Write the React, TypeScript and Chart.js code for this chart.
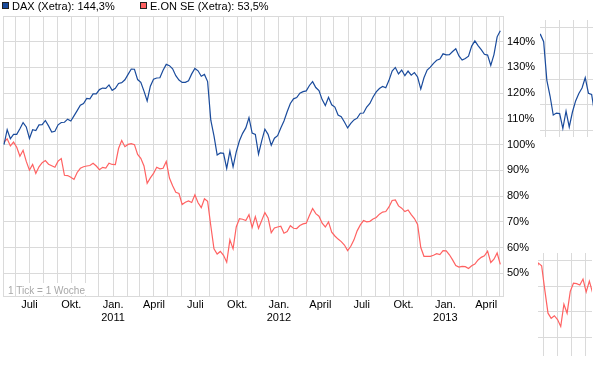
import { useEffect, useRef } from "react";
import { Chart, registerables } from "chart.js";

Chart.register(...registerables);

const DAY = 86400000;
// first weekly close (1 Tick = 1 Woche)
const startDay = Date.UTC(2010, 4, 6) / DAY;
const weekDays = 7;

const daxValues = [
  100, 105.8, 102.3, 104, 104, 106.2, 108.6, 106.9, 102.4, 105.8,
  105.5, 107.7, 107.8, 109.4, 107.3, 104.9, 105.2, 107.7, 108.6, 108.7,
  109.9, 109.2, 111.2, 113.2, 115.3, 116, 118, 117.8, 119.7, 119.7,
  121.4, 122, 121.9, 123.2, 121.1, 121.9, 123.8, 124.1, 125.2, 127.3,
  129.4, 129.3, 125.3, 124.2, 120.8, 117, 122.7, 125.4, 125.9, 126,
  128.9, 131.2, 130.7, 129.5, 126.8, 125.1, 124.2, 124.2, 124.8, 127.5,
  129.6, 128.7, 126.6, 127.3, 124.5, 109.5, 103.4, 96, 96.8, 96.6,
  90.8, 97.5, 91.4, 97.2, 101.5, 104.4, 106.5, 110.5, 104.5, 104,
  96.3, 101.5, 106, 104, 99.8, 102.5, 103.5, 106.5, 109.2, 112.8,
  116, 117.8, 118.3, 120, 120.6, 120.9, 123, 124.5, 122.2, 121,
  117.5, 115.2, 118.4, 115.5, 114.6, 111.5, 110.9, 108.8, 106.5, 108.3,
  109.6, 110.3, 112.2, 112.3, 114.6, 116, 118.5, 120.5, 121.8, 122.6,
  122.1, 125, 128.6, 130, 127.5, 129, 126.8, 128.6, 127, 128,
  126.3, 121.6, 126, 129, 130.1, 131.6, 132.8, 133.3, 135.3, 134.9,
  135, 136.2, 137.3, 134.5, 132.9, 133.5, 134.4, 138.3, 140.3, 138.5,
  136.9, 135.1, 134.8, 130.8, 135, 141.9, 144.3,
];

const eonValues = [
  101, 102.3, 99.5, 101, 99, 95.5, 97.8, 93.5, 90.1, 92.3,
  88.8, 91.4, 93, 93.8, 92.4, 91.8, 91.2, 93.6, 94.6, 88.1,
  88, 87.3, 86.5, 89.2, 90.8, 91.4, 91.7, 91.9, 92.8, 91.7,
  90.3, 91.2, 90.9, 92.8, 92.3, 92.2, 98.5, 101.6, 99.2, 100.1,
  100.4, 100, 96.2, 94.7, 91.7, 85, 87.1, 88.8, 91.2, 90.6,
  90.8, 93.5, 87, 84, 81.5, 81, 76.7, 77.6, 78.1, 77.5,
  80.5, 77.4, 75.5, 79, 78, 68.5, 59.5, 57.5, 58.5, 57,
  54.3, 63, 59.5, 68, 71.2, 71, 70.5, 72.8, 67.8, 72,
  67.5, 70.5, 73.6, 71.5, 65.8, 67.6, 68, 68.3, 65.6, 66.2,
  68.5, 67.5, 67.4, 68.6, 69.2, 69.5, 72.5, 75.2, 73.2, 72.2,
  69.5, 68, 70, 66, 64.5, 63.3, 62.3, 61, 58.8, 60.5,
  63, 66.5, 68.8, 70.5, 70, 70.2, 71.1, 71.7, 73, 73.8,
  74, 75.8, 78.3, 78.5, 76.2, 75.3, 74, 74.6, 72.8, 71.3,
  69, 60, 56.6, 56.6, 56.6, 57, 57.6, 57.3, 58.8, 58.7,
  57.2, 55.2, 53, 52.4, 52.7, 52.6, 51.9, 52.9, 53.6, 55.2,
  56.2, 56.8, 58.6, 54.2, 55.5, 57.9, 53.5,
];

const legendLabels = ["DAX (Xetra): 144,3%", "E.ON SE (Xetra): 53,5%"];
const noteText = "1 Tick = 1 Woche";
const monthLabels = ["Jan.", "", "", "April", "", "", "Juli", "", "", "Okt.", "", ""];
const yGridValues = [50, 60, 70, 80, 90, 100, 110, 120, 130, 140, 150];
const yLabelValues = [50, 60, 70, 80, 90, 100, 110, 120, 130, 140];

const BLUE = "#1a4b9c";
const RED = "#ff6262";
const GRID = "#dadada";
const FONT = "'Liberation Sans', Arial, sans-serif";

const xMin = startDay - 2.2;
const xMax = startDay + 1097.9;

const monthTicks: number[] = [];
for (let y = 2010; y <= 2013; y++) {
  for (let m = 0; m < 12; m++) {
    const d = Date.UTC(y, m, 1) / DAY;
    if (d > xMin && d < xMax) monthTicks.push(d);
  }
}

const toPoints = (vals: number[]) => vals.map((v, i) => ({ x: startDay + weekDays * i, y: v }));

const framePlugin = {
  id: "frame",
  beforeDatasetsDraw(chart: any) {
    const { ctx, chartArea: a } = chart;
    ctx.save();
    ctx.strokeStyle = GRID;
    ctx.lineWidth = 1;
    ctx.beginPath();
    ctx.moveTo(Math.round(a.left) + 0.5, a.top);
    ctx.lineTo(Math.round(a.left) + 0.5, a.bottom);
    ctx.stroke();
    // note text
    ctx.font = `10px ${FONT}`;
    const w = ctx.measureText(noteText).width;
    const tx = a.left + 5;
    const ty = a.bottom - 2;
    ctx.fillStyle = "#fff";
    ctx.fillRect(tx + 9, ty - 11, w - 8, 12);
    ctx.fillStyle = "#a8a8a8";
    ctx.textBaseline = "alphabetic";
    ctx.fillText(noteText, tx, ty);
    ctx.restore();
  },
};

const legendPlugin = {
  id: "topLegend",
  afterDraw(chart: any) {
    const { ctx } = chart;
    const items = [
      { x: 2, color: BLUE, text: legendLabels[0] },
      { x: 140, color: RED, text: legendLabels[1] },
    ];
    ctx.save();
    ctx.font = `11px ${FONT}`;
    ctx.textBaseline = "middle";
    for (const it of items) {
      ctx.fillStyle = it.color;
      ctx.fillRect(it.x + 0.5, 2.5, 6, 6);
      ctx.strokeStyle = "#222";
      ctx.lineWidth = 1;
      ctx.strokeRect(it.x + 0.5, 2.5, 6, 6);
      ctx.fillStyle = "#000";
      ctx.fillText(it.text, it.x + 10, 6.5);
    }
    ctx.restore();
  },
};

function mainConfig(): any {
  return {
    type: "line",
    data: {
      datasets: [
        { data: toPoints(daxValues), borderColor: BLUE, borderWidth: 1.2, pointRadius: 0, tension: 0, fill: false },
        { data: toPoints(eonValues), borderColor: RED, borderWidth: 1.2, pointRadius: 0, tension: 0, fill: false },
      ],
    },
    options: {
      animation: false,
      responsive: false,
      maintainAspectRatio: false,
      layout: { padding: { left: 3, top: 16, right: 0, bottom: 0 } },
      plugins: { legend: { display: false }, tooltip: { enabled: false } },
      scales: {
        x: {
          type: "linear",
          min: xMin,
          max: xMax,
          afterBuildTicks: (s: any) => {
            s.ticks = monthTicks.map((v) => ({ value: v }));
          },
          afterFit: (s: any) => {
            s.height = 69;
          },
          grid: { color: GRID, drawTicks: false, lineWidth: 1 },
          border: { display: true, color: GRID },
          ticks: {
            autoSkip: false,
            maxRotation: 0,
            padding: 2,
            color: "#000",
            font: { family: FONT, size: 11, lineHeight: 1.2 },
            callback: (value: number) => {
              const d = new Date(value * DAY);
              const m = d.getUTCMonth();
              if (m === 0) return [monthLabels[0], String(d.getUTCFullYear())];
              return monthLabels[m];
            },
          },
        },
        y: {
          position: "right",
          min: 41.18,
          max: 150,
          afterBuildTicks: (s: any) => {
            s.ticks = yGridValues.map((v) => ({ value: v }));
          },
          afterFit: (s: any) => {
            s.width = 102;
          },
          grid: { color: GRID, drawTicks: false, lineWidth: 1 },
          border: { display: true, color: GRID },
          ticks: {
            padding: 4,
            color: "#000",
            font: { family: FONT, size: 11 },
            callback: (value: number) => (yLabelValues.includes(value) ? `${value}%` : ""),
          },
        },
      },
    },
    plugins: [framePlugin, legendPlugin],
  };
}

function miniConfig(values: number[], color: string, x0: number, x1: number, y0: number, y1: number): any {
  return {
    type: "line",
    data: {
      datasets: [{ data: toPoints(values), borderColor: color, borderWidth: 1.2, pointRadius: 0, tension: 0, fill: false }],
    },
    options: {
      animation: false,
      responsive: false,
      maintainAspectRatio: false,
      layout: { padding: 0 },
      plugins: { legend: { display: false }, tooltip: { enabled: false } },
      scales: {
        x: {
          type: "linear",
          min: x0,
          max: x1,
          afterBuildTicks: (s: any) => {
            s.ticks = monthTicks.filter((v) => v > x0 && v < x1).map((v) => ({ value: v }));
          },
          afterFit: (s: any) => {
            s.height = 0;
          },
          grid: { color: GRID, drawTicks: false },
          border: { display: false },
          ticks: { display: false },
        },
        y: {
          min: y0,
          max: y1,
          afterBuildTicks: (s: any) => {
            s.ticks = yGridValues.filter((v) => v > y0 && v < y1).map((v) => ({ value: v }));
          },
          afterFit: (s: any) => {
            s.width = 0;
          },
          grid: { color: GRID, drawTicks: false },
          border: { display: false },
          ticks: { display: false },
        },
      },
    },
  };
}

export default function App() {
  const mainRef = useRef<HTMLCanvasElement>(null);
  const miniBlueRef = useRef<HTMLCanvasElement>(null);
  const miniRedRef = useRef<HTMLCanvasElement>(null);

  useEffect(() => {
    const charts: Chart[] = [];
    if (mainRef.current) charts.push(new Chart(mainRef.current, mainConfig()));
    if (miniBlueRef.current)
      charts.push(new Chart(miniBlueRef.current, miniConfig(daxValues, BLUE, startDay + 440, startDay + 556, 87.5, 132.9)));
    if (miniRedRef.current)
      charts.push(new Chart(miniRedRef.current, miniConfig(eonValues, RED, startDay + 440, startDay + 558.8, 42.8, 82.96)));
    return () => charts.forEach((c) => c.destroy());
  }, []);

  return (
    <div style={{ position: "absolute", left: 0, top: 0, width: 605, height: 365, background: "#fff", overflow: "hidden" }}>
      <canvas ref={mainRef} width={605} height={365} style={{ position: "absolute", left: 0, top: 0, width: 605, height: 365 }} />
      <canvas ref={miniBlueRef} width={53} height={117} style={{ position: "absolute", left: 540, top: 20, width: 53, height: 117 }} />
      <canvas ref={miniRedRef} width={54} height={103} style={{ position: "absolute", left: 538, top: 253, width: 54, height: 103 }} />
    </div>
  );
}
